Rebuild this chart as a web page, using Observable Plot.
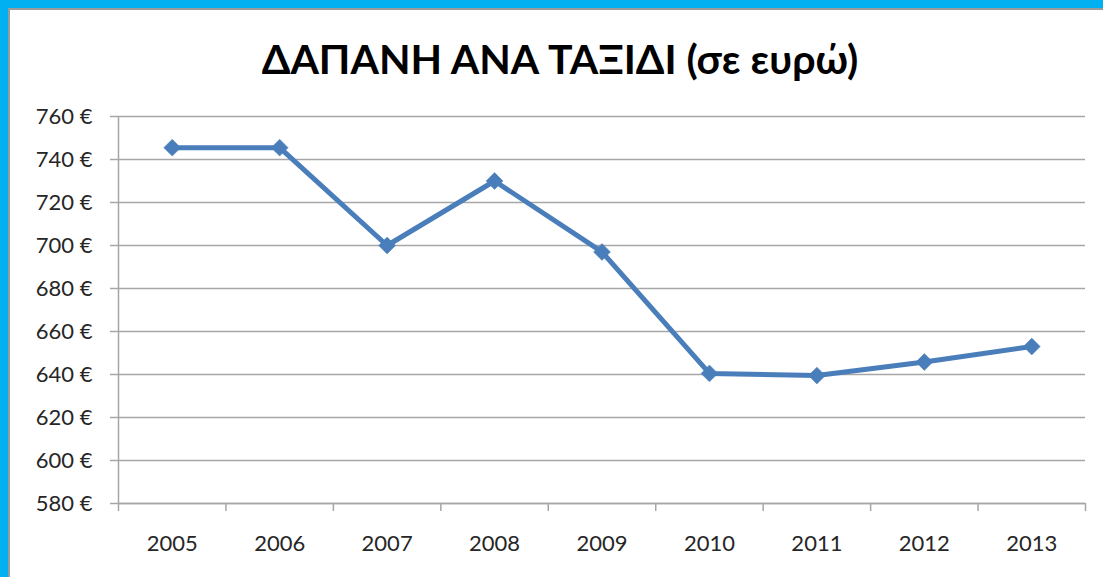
<!DOCTYPE html>
<html>
<head>
<meta charset="utf-8">
<script src="https://cdn.jsdelivr.net/npm/d3@7"></script>
<script src="https://cdn.jsdelivr.net/npm/@observablehq/plot@0.6"></script>
<style>
  html, body { margin: 0; padding: 0; background: #fff; }
  #wrap { position: relative; width: 1103px; height: 577px; overflow: hidden; background: #fff; }
  #frameTop { position: absolute; left: 0; top: 0; width: 1103px; height: 8px; background: #00B0F0; }
  #frameLeft { position: absolute; left: 0; top: 0; width: 8px; height: 577px; background: #00B0F0; }
  #innerTop { position: absolute; left: 8px; top: 8px; width: 1095px; height: 2px; background: #9a9a9a; }
  #innerLeft { position: absolute; left: 8px; top: 8px; width: 2px; height: 569px; background: #9a9a9a; }
  #title { position: absolute; left: 0; top: 35px; width: 1120px; text-align: center;
           font-family: Lato, "Open Sans", sans-serif; font-weight: bold; font-size: 41px; color: #000; line-height: 48px; }
  #chart { position: absolute; left: 0; top: 0; }
</style>
</head>
<body>
<div id="wrap">
  <div id="frameTop"></div>
  <div id="frameLeft"></div>
  <div id="innerTop"></div>
  <div id="innerLeft"></div>
  <div id="chart"></div>
  <div id="title">ΔΑΠΑΝΗ ΑΝΑ ΤΑΞΙΔΙ (σε ευρώ)</div>
</div>
<script>
const years = [2005, 2006, 2007, 2008, 2009, 2010, 2011, 2012, 2013];
const spending = [745.5, 745.5, 700, 730, 697, 640.5, 639.5, 645.8, 653];
const yTicks = [580, 600, 620, 640, 660, 680, 700, 720, 740, 760];

const data = years.map((y, i) => ({year: y, value: spending[i]}));
const boundaries = years.map(y => y - 0.5).concat([years[years.length - 1] + 0.5]);

const gridColor = "#a6a6a6";
const font = "Lato, 'Open Sans', sans-serif";

const plot = Plot.plot({
  width: 1103,
  height: 577,
  marginLeft: 118,
  marginRight: 18,
  marginTop: 116,
  marginBottom: 74,
  style: { fontFamily: font, fontSize: "22px", color: "#262626", background: "transparent" },
  x: { type: "linear", domain: [years[0] - 0.5, years[years.length - 1] + 0.5] },
  y: { domain: [580, 760] },
  marks: [
    Plot.gridY(yTicks, { stroke: gridColor, strokeOpacity: 1, strokeWidth: 1.5 }),
    Plot.ruleX([years[0] - 0.5], { stroke: gridColor, strokeWidth: 1.5 }),
    Plot.ruleY([580], { stroke: gridColor, strokeWidth: 1.5 }),
    Plot.axisY(yTicks, {
      tickSize: 8, tickPadding: 18, stroke: gridColor, strokeWidth: 1.5,
      tickFormat: d => d + " €", label: null, fill: "#262626"
    }),
    Plot.axisX(boundaries, {
      tickSize: 8, tickFormat: () => "", stroke: gridColor, strokeWidth: 1.5, label: null
    }),
    Plot.axisX(years, {
      tickSize: 0, tickPadding: 32, tickFormat: d => String(d), label: null, fill: "#262626"
    }),
    Plot.line(data, { x: "year", y: "value", stroke: "#4A7EBB", strokeWidth: 5, strokeLinejoin: "miter" }),
    Plot.dot(data, { x: "year", y: "value", symbol: "diamond2", r: 7.6, fill: "#4A7EBB", stroke: "#4A7EBB", strokeWidth: 0.5 })
  ]
});
document.getElementById("chart").appendChild(plot);
</script>
</body>
</html>
